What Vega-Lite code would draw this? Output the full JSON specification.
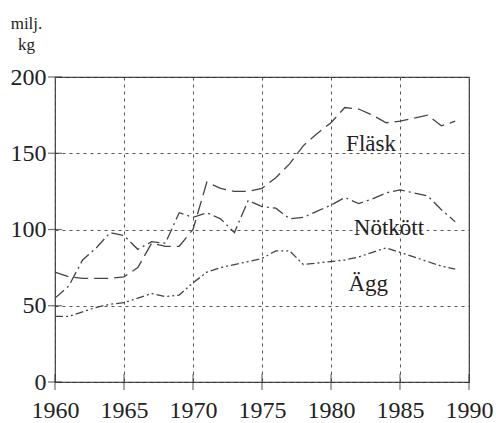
{
  "$schema": "https://vega.github.io/schema/vega-lite/v6.json",
  "width": 414,
  "height": 305,
  "autosize": {"type": "none"},
  "padding": {"left": 55, "top": 77, "right": 27, "bottom": 41},
  "background": "white",
  "config": {
    "view": {"stroke": "#333", "strokeWidth": 1.2},
    "font": "Liberation Serif"
  },
  "datasets": {
    "series": [
      {"series": "Fläsk", "year": 1960, "value": 72},
      {"series": "Fläsk", "year": 1961, "value": 69},
      {"series": "Fläsk", "year": 1962, "value": 68},
      {"series": "Fläsk", "year": 1963, "value": 68},
      {"series": "Fläsk", "year": 1964, "value": 68},
      {"series": "Fläsk", "year": 1965, "value": 69},
      {"series": "Fläsk", "year": 1966, "value": 75},
      {"series": "Fläsk", "year": 1967, "value": 91},
      {"series": "Fläsk", "year": 1968, "value": 89},
      {"series": "Fläsk", "year": 1969, "value": 89},
      {"series": "Fläsk", "year": 1970, "value": 100},
      {"series": "Fläsk", "year": 1971, "value": 131},
      {"series": "Fläsk", "year": 1972, "value": 127},
      {"series": "Fläsk", "year": 1973, "value": 125},
      {"series": "Fläsk", "year": 1974, "value": 125},
      {"series": "Fläsk", "year": 1975, "value": 127},
      {"series": "Fläsk", "year": 1976, "value": 134},
      {"series": "Fläsk", "year": 1977, "value": 143},
      {"series": "Fläsk", "year": 1978, "value": 155},
      {"series": "Fläsk", "year": 1979, "value": 163},
      {"series": "Fläsk", "year": 1980, "value": 170},
      {"series": "Fläsk", "year": 1981, "value": 180},
      {"series": "Fläsk", "year": 1982, "value": 179},
      {"series": "Fläsk", "year": 1983, "value": 175},
      {"series": "Fläsk", "year": 1984, "value": 170},
      {"series": "Fläsk", "year": 1985, "value": 171},
      {"series": "Fläsk", "year": 1986, "value": 173},
      {"series": "Fläsk", "year": 1987, "value": 175},
      {"series": "Fläsk", "year": 1988, "value": 168},
      {"series": "Fläsk", "year": 1989, "value": 171},
      {"series": "Nötkött", "year": 1960, "value": 55},
      {"series": "Nötkött", "year": 1961, "value": 63},
      {"series": "Nötkött", "year": 1962, "value": 80},
      {"series": "Nötkött", "year": 1963, "value": 88},
      {"series": "Nötkött", "year": 1964, "value": 98},
      {"series": "Nötkött", "year": 1965, "value": 96},
      {"series": "Nötkött", "year": 1966, "value": 87},
      {"series": "Nötkött", "year": 1967, "value": 92},
      {"series": "Nötkött", "year": 1968, "value": 91},
      {"series": "Nötkött", "year": 1969, "value": 111},
      {"series": "Nötkött", "year": 1970, "value": 108},
      {"series": "Nötkött", "year": 1971, "value": 111},
      {"series": "Nötkött", "year": 1972, "value": 107},
      {"series": "Nötkött", "year": 1973, "value": 98},
      {"series": "Nötkött", "year": 1974, "value": 119},
      {"series": "Nötkött", "year": 1975, "value": 115},
      {"series": "Nötkött", "year": 1976, "value": 114},
      {"series": "Nötkött", "year": 1977, "value": 107},
      {"series": "Nötkött", "year": 1978, "value": 108},
      {"series": "Nötkött", "year": 1979, "value": 112},
      {"series": "Nötkött", "year": 1980, "value": 116},
      {"series": "Nötkött", "year": 1981, "value": 121},
      {"series": "Nötkött", "year": 1982, "value": 117},
      {"series": "Nötkött", "year": 1983, "value": 120},
      {"series": "Nötkött", "year": 1984, "value": 124},
      {"series": "Nötkött", "year": 1985, "value": 126},
      {"series": "Nötkött", "year": 1986, "value": 124},
      {"series": "Nötkött", "year": 1987, "value": 122},
      {"series": "Nötkött", "year": 1988, "value": 113},
      {"series": "Nötkött", "year": 1989, "value": 105},
      {"series": "Ägg", "year": 1960, "value": 43},
      {"series": "Ägg", "year": 1961, "value": 43},
      {"series": "Ägg", "year": 1962, "value": 46},
      {"series": "Ägg", "year": 1963, "value": 49},
      {"series": "Ägg", "year": 1964, "value": 51},
      {"series": "Ägg", "year": 1965, "value": 52},
      {"series": "Ägg", "year": 1966, "value": 55},
      {"series": "Ägg", "year": 1967, "value": 58},
      {"series": "Ägg", "year": 1968, "value": 56},
      {"series": "Ägg", "year": 1969, "value": 57},
      {"series": "Ägg", "year": 1970, "value": 65},
      {"series": "Ägg", "year": 1971, "value": 72},
      {"series": "Ägg", "year": 1972, "value": 75},
      {"series": "Ägg", "year": 1973, "value": 77},
      {"series": "Ägg", "year": 1974, "value": 79},
      {"series": "Ägg", "year": 1975, "value": 81},
      {"series": "Ägg", "year": 1976, "value": 86},
      {"series": "Ägg", "year": 1977, "value": 86},
      {"series": "Ägg", "year": 1978, "value": 77},
      {"series": "Ägg", "year": 1979, "value": 78},
      {"series": "Ägg", "year": 1980, "value": 79},
      {"series": "Ägg", "year": 1981, "value": 80},
      {"series": "Ägg", "year": 1982, "value": 82},
      {"series": "Ägg", "year": 1983, "value": 85},
      {"series": "Ägg", "year": 1984, "value": 88},
      {"series": "Ägg", "year": 1985, "value": 85},
      {"series": "Ägg", "year": 1986, "value": 82},
      {"series": "Ägg", "year": 1987, "value": 79},
      {"series": "Ägg", "year": 1988, "value": 76},
      {"series": "Ägg", "year": 1989, "value": 74}
    ],
    "labels": [
      {"label": "Fläsk", "year": 1982.9, "value": 156},
      {"label": "Nötkött", "year": 1984.2, "value": 101},
      {"label": "Ägg", "year": 1982.7, "value": 64}
    ],
    "xticks": [
      {"year": 1960}, {"year": 1965}, {"year": 1970}, {"year": 1975},
      {"year": 1980}, {"year": 1985}, {"year": 1990}
    ],
    "yticks": [
      {"value": 0}, {"value": 50}, {"value": 100}, {"value": 150}, {"value": 200}
    ]
  },
  "layer": [
    {
      "data": {"name": "series"},
      "mark": {"type": "line", "strokeWidth": 1.3, "color": "#444"},
      "encoding": {
        "x": {
          "field": "year", "type": "quantitative",
          "scale": {"domain": [1960, 1990], "nice": false, "zero": false},
          "axis": {
            "values": [1960, 1965, 1970, 1975, 1980, 1985, 1990],
            "format": "d", "title": null, "domain": false, "ticks": false,
            "labelFlush": false, "labelOverlap": false, "labelBound": false,
            "labelPadding": 16, "labelFontSize": 24, "labelColor": "#222",
            "labelFont": "Liberation Serif",
            "grid": true, "gridColor": "#555", "gridDash": [3, 4], "gridWidth": 1
          }
        },
        "y": {
          "field": "value", "type": "quantitative",
          "scale": {"domain": [0, 200], "nice": false},
          "axis": {
            "values": [0, 50, 100, 150, 200],
            "title": ["milj.", "kg"], "titleAngle": 0, "titleX": -29, "titleY": -49,
            "titleAlign": "center", "titleBaseline": "alphabetic",
            "titleFontSize": 17, "titleFontWeight": "normal", "titleFont": "Liberation Serif",
            "titleColor": "#222", "titleLineHeight": 21,
            "domain": false, "ticks": false,
            "labelFlush": false, "labelOverlap": false,
            "labelPadding": 9, "labelFontSize": 24, "labelColor": "#222",
            "labelFont": "Liberation Serif",
            "grid": true, "gridColor": "#555", "gridDash": [3, 4], "gridWidth": 1
          }
        },
        "detail": {"field": "series"},
        "strokeDash": {
          "field": "series", "type": "nominal",
          "scale": {
            "domain": ["Fläsk", "Nötkött", "Ägg"],
            "range": [[14, 6], [12, 4, 2, 4], [8, 3, 2, 3, 2, 3]]
          },
          "legend": null
        }
      }
    },
    {
      "data": {"name": "xticks"},
      "mark": {"type": "tick", "orient": "vertical", "size": 16, "color": "#333", "thickness": 1.2},
      "encoding": {
        "x": {"field": "year", "type": "quantitative"},
        "y": {"datum": 0}
      }
    },
    {
      "data": {"name": "yticks"},
      "mark": {"type": "tick", "orient": "horizontal", "size": 14, "color": "#333", "thickness": 1.2},
      "encoding": {
        "y": {"field": "value", "type": "quantitative"},
        "x": {"datum": 1960}
      }
    },
    {
      "data": {"name": "labels"},
      "mark": {"type": "text", "font": "Liberation Serif", "fontSize": 23, "color": "#222", "align": "center", "baseline": "middle"},
      "encoding": {
        "x": {"field": "year", "type": "quantitative"},
        "y": {"field": "value", "type": "quantitative"},
        "text": {"field": "label"}
      }
    }
  ]
}
